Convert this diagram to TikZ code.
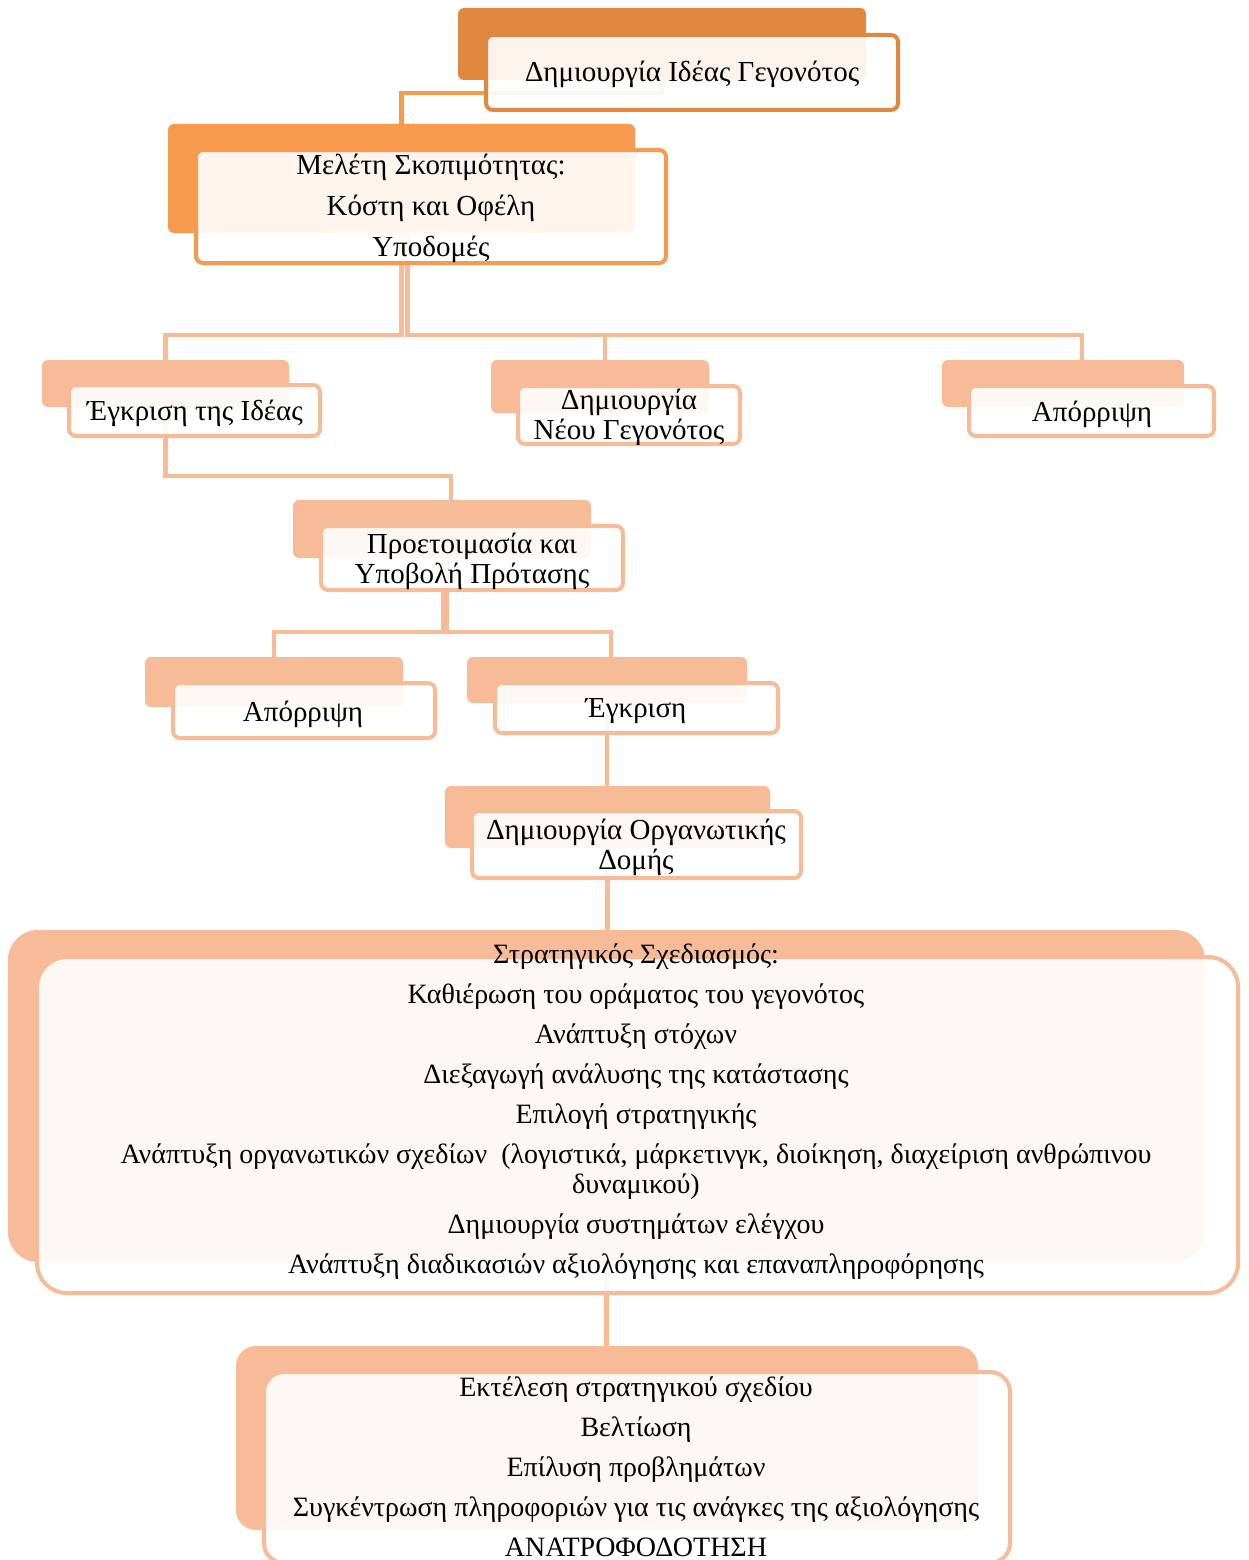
\documentclass[tikz,border=0pt]{standalone}
\usepackage{fontspec}
\setmainfont{Liberation Serif}

\tikzset{
    backbox/.style={fill=#1, rounded corners=6pt, inner sep=0pt, outer sep=0pt, anchor=north west},
    frontbox/.style={draw=#1, line width=4pt, fill=white, fill opacity=0.9, rounded corners=7pt, inner sep=0pt, outer sep=0pt, anchor=north west},
    conn/.style={draw=#1, line width=4.5pt},
    boxtext/.style={align=center, inner sep=0pt, font=\fontsize{29}{30}\selectfont},
    bigtext/.style={boxtext, font=\fontsize{28}{30}\selectfont}
}

\begin{document}
\begin{tikzpicture}[x=1pt, y=-1pt]
    \definecolor{darkorange}{RGB}{224,136,64}
    \definecolor{midorange}{RGB}{247,154,77}
    \definecolor{lightorange}{RGB}{248,187,152}

    \fill[white] (0,0) rectangle (1248,1560);
    \useasboundingbox (0,0) rectangle (1248,1560);

    % back shapes
    \node[backbox=darkorange, minimum width=408, minimum height=72] (ideaB) at (458,8) {};
    \node[backbox=midorange, minimum width=467, minimum height=109] (studyB) at (168,124) {};
    \node[backbox=lightorange, minimum width=247, minimum height=47] (approveB) at (42,360) {};
    \node[backbox=lightorange, minimum width=218, minimum height=53] (neweventB) at (491,360) {};
    \node[backbox=lightorange, minimum width=242, minimum height=47] (rejectB) at (942,360) {};
    \node[backbox=lightorange, minimum width=298, minimum height=58] (proposalB) at (293,500) {};
    \node[backbox=lightorange, minimum width=258, minimum height=50] (refuseB) at (145,657) {};
    \node[backbox=lightorange, minimum width=280, minimum height=46] (acceptB) at (467,657) {};
    \node[backbox=lightorange, minimum width=325, minimum height=62] (orgB) at (445,786) {};
    \node[backbox=lightorange, rounded corners=30pt, minimum width=1197, minimum height=332] (strategyB) at (8,930) {};
    \node[backbox=lightorange, rounded corners=20pt, minimum width=742, minimum height=184] (execB) at (236,1346) {};

    % connectors
    \draw[conn=midorange] (ideaB.south) -- ++(0,13) -| (studyB.north);
    \draw[conn=lightorange] (studyB.south) -- ++(0,102) -| (approveB.north);
    \draw[conn=lightorange] ([xshift=6pt]studyB.south) -- ++(0,102) -| ([xshift=5pt]neweventB.north);
    \draw[conn=lightorange] ([xshift=6pt]studyB.south) -- ++(0,102) -| ([xshift=19pt]rejectB.north);
    \draw[conn=lightorange] (approveB.south) -- ++(0,69) -| ([xshift=9pt]proposalB.north);
    \draw[conn=lightorange] ([xshift=1pt]proposalB.south) -- ++(0,74) -| (refuseB.north);
    \draw[conn=lightorange] ([xshift=5pt]proposalB.south) -- ++(0,74) -| ([xshift=4pt]acceptB.north);
    \draw[conn=lightorange] (acceptB.south) -- (acceptB.south |- orgB.north);
    \draw[conn=lightorange] (orgB.south) -- (orgB.south |- strategyB.north);
    \draw[conn=lightorange] (strategyB.south) -- (strategyB.south |- execB.north);

    % front shapes
    \node[frontbox=darkorange, minimum width=412, minimum height=75] (ideaF) at (486,35) {};
    \node[frontbox=midorange, minimum width=470, minimum height=113] (studyF) at (196,150) {};
    \node[frontbox=lightorange, minimum width=251, minimum height=51] (approveF) at (69,385) {};
    \node[frontbox=lightorange, minimum width=222, minimum height=58] (neweventF) at (518,386) {};
    \node[frontbox=lightorange, minimum width=245, minimum height=50] (rejectF) at (969,386) {};
    \node[frontbox=lightorange, minimum width=302, minimum height=64] (proposalF) at (321,526) {};
    \node[frontbox=lightorange, minimum width=262, minimum height=55] (refuseF) at (173,683) {};
    \node[frontbox=lightorange, minimum width=283, minimum height=50] (acceptF) at (495,683) {};
    \node[frontbox=lightorange, minimum width=329, minimum height=67] (orgF) at (472,811) {};
    \node[frontbox=lightorange, rounded corners=30pt, minimum width=1201, minimum height=336] (strategyF) at (37,957) {};
    \node[frontbox=lightorange, rounded corners=20pt, minimum width=746, minimum height=191] (execF) at (264,1372) {};

    % texts
    \node[boxtext] (ideaT) at (692,74) {Δημιουργία Ιδέας Γεγονότος};
    \node[boxtext] (studyT) at (431,208) {Μελέτη Σκοπιμότητας:\\[11pt] Κόστη και Οφέλη\\[11pt] Υποδομές};
    \node[boxtext] (approveT) at (195,413) {Έγκριση της Ιδέας};
    \node[boxtext] (neweventT) at (629,417) {Δημιουργία\\ Νέου Γεγονότος};
    \node[boxtext] (rejectT) at (1092,414) {Απόρριψη};
    \node[boxtext] (proposalT) at (472,561) {Προετοιμασία και\\ Υποβολή Πρότασης};
    \node[boxtext] (refuseT) at (303,714) {Απόρριψη};
    \node[boxtext] (acceptT) at (636,711) {Έγκριση};
    \node[boxtext] (orgT) at (636,847) {Δημιουργία Οργανωτικής\\ Δομής};
    \node[bigtext] (strategyT) at (636,1112) {Στρατηγικός Σχεδιασμός:\\[10pt]
        Καθιέρωση του οράματος του γεγονότος\\[10pt]
        Ανάπτυξη στόχων\\[10pt]
        Διεξαγωγή ανάλυσης της κατάστασης\\[10pt]
        Επιλογή στρατηγικής\\[10pt]
        Ανάπτυξη οργανωτικών σχεδίων~ (λογιστικά, μάρκετινγκ, διοίκηση, διαχείριση ανθρώπινου\\
        δυναμικού)\\[10pt]
        Δημιουργία συστημάτων ελέγχου\\[10pt]
        Ανάπτυξη διαδικασιών αξιολόγησης και επαναπληροφόρησης};
    \node[bigtext] (execT) at (636,1467) {Εκτέλεση στρατηγικού σχεδίου\\[10pt]
        Βελτίωση\\[10pt]
        Επίλυση προβλημάτων\\[10pt]
        Συγκέντρωση πληροφοριών για τις ανάγκες της αξιολόγησης\\[10pt]
        ΑΝΑΤΡΟΦΟΔΟΤΗΣΗ};
\end{tikzpicture}
\end{document}
